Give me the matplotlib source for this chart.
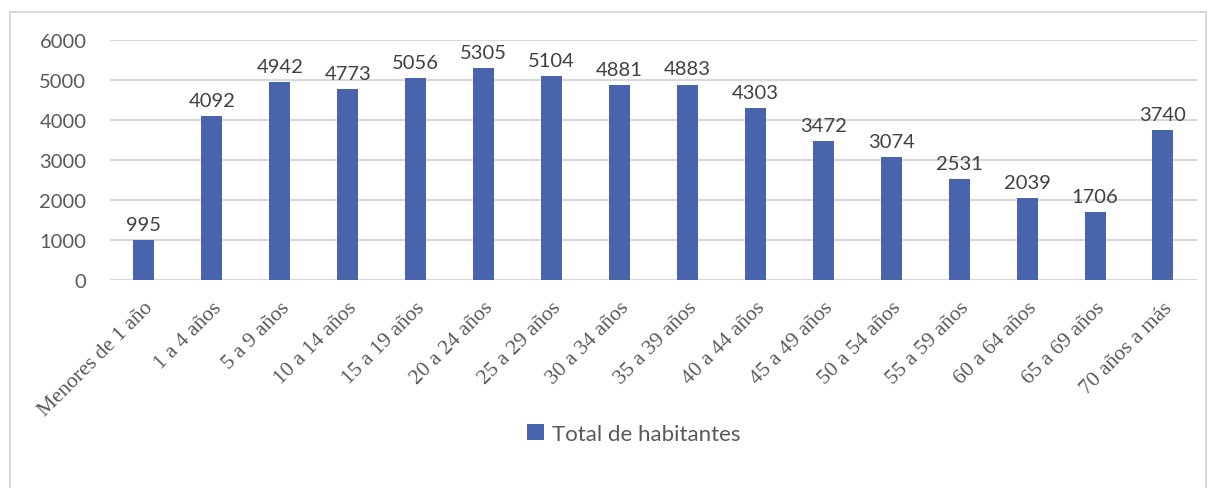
import matplotlib
matplotlib.use("Agg")
import matplotlib.pyplot as plt
from matplotlib.patches import Rectangle

categories = ["Menores de 1 año", "1 a 4 años", "5 a 9 años", "10 a 14 años",
              "15 a 19 años", "20 a 24 años", "25 a 29 años", "30 a 34 años",
              "35 a 39 años", "40 a 44 años", "45 a 49 años", "50 a 54 años",
              "55 a 59 años", "60 a 64 años", "65 a 69 años", "70 años a más"]
habitantes = [995, 4092, 4942, 4773, 5056, 5305, 5104, 4881,
              4883, 4303, 3472, 3074, 2531, 2039, 1706, 3740]
yticks = [0, 1000, 2000, 3000, 4000, 5000, 6000]

plt.rcParams.update({"font.family": ["Lato", "DejaVu Sans"]})
blue = "#4864AC"

fig = plt.figure(figsize=(12.1, 4.89), dpi=100)
ax = fig.add_axes([0.0909, 0.4254, 0.8983, 0.4908])

x = range(len(categories))
bars = ax.bar(x, habitantes, width=0.31, color=blue, zorder=3,
              label="Total de habitantes")
for b, v in zip(bars, habitantes):
    ax.text(b.get_x() + b.get_width() / 2, v + 180, str(v),
            ha="center", va="bottom", fontsize=14.5, color="#404040")

ax.set_xlim(-0.5, len(categories) - 0.5)
ax.set_ylim(0, 6000)
ax.set_yticks(yticks)
ax.set_yticklabels([str(t) for t in yticks], fontsize=14.5, color="#595959")
ax.set_xticks(list(x))
ax.set_xticklabels(categories, rotation=45, ha="right", rotation_mode="anchor",
                   fontsize=15.5, color="#595959", family="Liberation Serif")
ax.tick_params(length=0, axis="both")
ax.tick_params(axis="y", pad=17)
ax.tick_params(axis="x", pad=13)
ax.grid(axis="y", color="#D9D9D9", linewidth=1.5, zorder=0)
for s in ax.spines.values():
    s.set_visible(False)

ax.legend(loc="center", bbox_to_anchor=(0.482, -0.64), frameon=False,
          fontsize=16, handlelength=0.75, handleheight=0.75, handletextpad=0.35,
          labelcolor="#595959")

fig.patches.append(Rectangle((10 / 1210, -0.1), 1196 / 1210, 1.1 - 13 / 489,
                             transform=fig.transFigure, fill=False,
                             edgecolor="#D9D9D9", linewidth=1.5))

fig.savefig("out.png", dpi=100)
